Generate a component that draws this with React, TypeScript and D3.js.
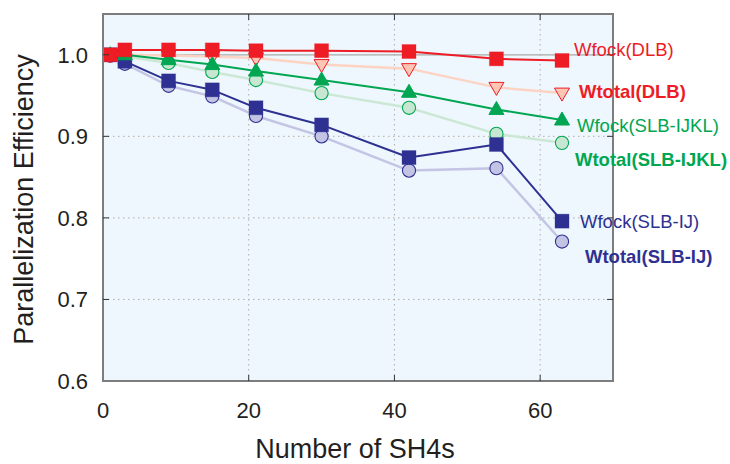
import React from 'react'
import * as d3 from 'd3'

// SH4 counts on the x axis
const sh4s = [1, 3, 9, 15, 21, 30, 42, 54, 63]

const wfockDLB = [1.0, 1.006, 1.006, 1.006, 1.005, 1.005, 1.004, 0.995, 0.993]
const wtotalDLB = [1.0, 1.0, 0.999, 0.998, 0.996, 0.988, 0.983, 0.96, 0.953]
const wfockIJKL = [1.0, 1.0, 0.994, 0.988, 0.98, 0.969, 0.954, 0.933, 0.92]
const wtotalIJKL = [1.0, 0.998, 0.99, 0.979, 0.969, 0.953, 0.935, 0.903, 0.892]
const wfockIJ = [1.0, 0.992, 0.968, 0.957, 0.935, 0.914, 0.874, 0.89, 0.796]
const wtotalIJ = [0.999, 0.989, 0.962, 0.949, 0.925, 0.9, 0.858, 0.861, 0.771]

const xTicks = [0, 20, 40, 60]
const yTicks = [0.6, 0.7, 0.8, 0.9, 1.0]

const RED = '#ee1c25'
const GREEN = '#00a651'
const NAVY = '#2e3192'

type Series = {
  name: string
  values: number[]
  marker: 'square' | 'circle' | 'triUp' | 'triDown'
  line: string
  lineWidth: number
  fill: string
  stroke: string
  bold: boolean
  labelColor: string
  labelX: number
  labelY: number
}

// drawn in this order (light totals first, fock on top)
const series: Series[] = [
  { name: 'Wtotal(SLB-IJ)', values: wtotalIJ, marker: 'circle', line: '#c4c4e4', lineWidth: 2.5, fill: '#c3c3e3', stroke: NAVY, bold: true, labelColor: NAVY, labelX: 585, labelY: 263 },
  { name: 'Wtotal(SLB-IJKL)', values: wtotalIJKL, marker: 'circle', line: '#cce8d5', lineWidth: 2.5, fill: '#c8e7d3', stroke: GREEN, bold: true, labelColor: GREEN, labelX: 575, labelY: 166 },
  { name: 'Wtotal(DLB)', values: wtotalDLB, marker: 'triDown', line: '#fdd3c4', lineWidth: 2.5, fill: '#fdc6b4', stroke: RED, bold: true, labelColor: RED, labelX: 579, labelY: 98 },
  { name: 'Wfock(SLB-IJ)', values: wfockIJ, marker: 'square', line: NAVY, lineWidth: 2, fill: NAVY, stroke: NAVY, bold: false, labelColor: NAVY, labelX: 580, labelY: 228 },
  { name: 'Wfock(SLB-IJKL)', values: wfockIJKL, marker: 'triUp', line: GREEN, lineWidth: 2, fill: GREEN, stroke: GREEN, bold: false, labelColor: GREEN, labelX: 577, labelY: 132 },
  { name: 'Wfock(DLB)', values: wfockDLB, marker: 'square', line: RED, lineWidth: 2, fill: RED, stroke: RED, bold: false, labelColor: RED, labelX: 574, labelY: 56 },
]

const W = 730
const H = 464
const margin = { left: 103, right: 117, top: 14, bottom: 83 }

function Marker({ kind, x, y, fill, stroke }: { kind: Series['marker']; x: number; y: number; fill: string; stroke: string }) {
  if (kind === 'square') {
    return <rect x={x - 7} y={y - 7} width={14} height={14} fill={fill} stroke={stroke} strokeOpacity={0.3} strokeWidth={1} />
  }
  if (kind === 'circle') {
    return <circle cx={x} cy={y} r={6.6} fill={fill} stroke={stroke} strokeWidth={1.1} />
  }
  if (kind === 'triUp') {
    const p = `${x},${y - 8} ${x + 7.5},${y + 5} ${x - 7.5},${y + 5}`
    return <polygon points={p} fill={fill} stroke={stroke} strokeWidth={1} />
  }
  const p = `${x - 7.5},${y - 5} ${x + 7.5},${y - 5} ${x},${y + 8}`
  return <polygon points={p} fill={fill} stroke={stroke} strokeWidth={1} />
}

export default function App() {
  const x = d3.scaleLinear().domain([0, 70]).range([margin.left, W - margin.right])
  const y = d3.scaleLinear().domain([0.6, 1.05]).range([H - margin.bottom, margin.top])
  const [x0, x1] = x.range()
  const [y0, y1] = y.range()

  const line = d3.line<number>()
    .x((_, i) => x(sh4s[i]))
    .y(d => y(d))

  const font = 'Liberation Sans, Arial, Helvetica, sans-serif'

  return (
    <div style={{ position: 'absolute', left: 0, top: 0 }}>
      <svg width={W} height={H} style={{ display: 'block', fontFamily: font }}>
        <rect x={0} y={0} width={W} height={H} fill="#fff" />
        <rect x={x0} y={y1} width={x1 - x0} height={y0 - y1} fill="#edf7fd" />

        {/* dotted grid */}
        {xTicks.filter(t => t > 0).map(t => (
          <line key={'gx' + t} x1={x(t)} x2={x(t)} y1={y1} y2={y0} stroke="#b5aca6" strokeWidth={1} strokeDasharray="1.5,3.5" />
        ))}
        {yTicks.filter(t => t > 0.6 && t < 1).map(t => (
          <line key={'gy' + t} x1={x0} x2={x1} y1={y(t)} y2={y(t)} stroke="#b5aca6" strokeWidth={1} strokeDasharray="1.5,3.5" />
        ))}
        <line x1={x0} x2={x1} y1={y(1)} y2={y(1)} stroke="#a8a8a8" strokeWidth={1.2} />

        {/* series */}
        {series.map(s => (
          <g key={s.name}>
            <path d={line(s.values) ?? ''} fill="none" stroke={s.line} strokeWidth={s.lineWidth} strokeLinejoin="round" />
            {s.values.map((v, i) => (
              <Marker key={i} kind={s.marker} x={x(sh4s[i])} y={y(v)} fill={s.fill} stroke={s.stroke} />
            ))}
          </g>
        ))}

        {/* frame and inward ticks */}
        <rect x={x0} y={y1} width={x1 - x0} height={y0 - y1} fill="none" stroke="#7d7d7d" strokeWidth={2} />
        {xTicks.filter(t => t > 0).map(t => (
          <g key={'tx' + t}>
            <line x1={x(t)} x2={x(t)} y1={y0} y2={y0 - 6} stroke="#333" strokeWidth={1} />
            <line x1={x(t)} x2={x(t)} y1={y1} y2={y1 + 6} stroke="#333" strokeWidth={1} />
          </g>
        ))}
        {yTicks.filter(t => t > 0.6).map(t => (
          <g key={'ty' + t}>
            <line x1={x0} x2={x0 + 6} y1={y(t)} y2={y(t)} stroke="#333" strokeWidth={1} />
            <line x1={x1} x2={x1 - 6} y1={y(t)} y2={y(t)} stroke="#333" strokeWidth={1} />
          </g>
        ))}

        {/* tick labels */}
        {xTicks.map(t => (
          <text key={'lx' + t} x={x(t)} y={418} textAnchor="middle" fontSize={22} fill="#231f20">{t}</text>
        ))}
        {yTicks.map(t => (
          <text key={'ly' + t} x={88} y={y(t) + 8} textAnchor="end" fontSize={22} fill="#231f20">{d3.format('.1f')(t)}</text>
        ))}

        {/* axis titles */}
        <text x={355} y={458} textAnchor="middle" fontSize={27} fill="#231f20">Number of SH4s</text>
        <text transform={`translate(33,${(y0 + y1) / 2 + 2}) rotate(-90)`} textAnchor="middle" fontSize={27} fill="#231f20">Parallelization Efficiency</text>

        {/* series labels */}
        {series.map(s => (
          <text key={'n' + s.name} x={s.labelX} y={s.labelY} fontSize={18.5} fontWeight={s.bold ? 'bold' : 'normal'} fill={s.labelColor}>{s.name}</text>
        ))}
      </svg>
    </div>
  )
}
